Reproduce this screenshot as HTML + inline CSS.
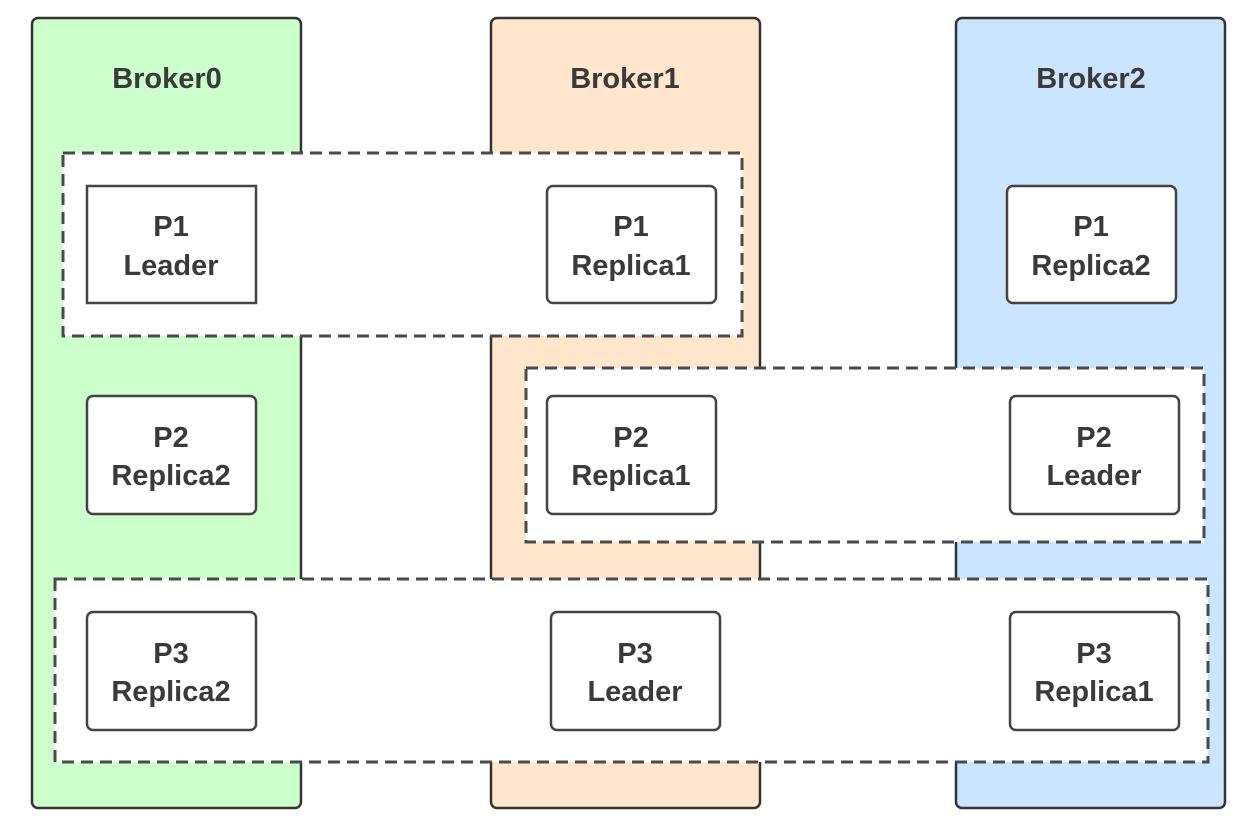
<!DOCTYPE html>
<html><head><meta charset="utf-8"><style>html,body{margin:0;padding:0;background:#fff}svg{display:block}</style></head>
<body>
<svg width="1256" height="836" xmlns="http://www.w3.org/2000/svg" font-family="Liberation Sans, sans-serif" font-weight="bold" font-size="29" fill="#3a3a3a">
<g stroke="#333" stroke-width="2.5">
<rect x="32" y="18" width="269" height="790" rx="6" fill="#ccffcc"/>
<rect x="491" y="18" width="269" height="790" rx="6" fill="#ffe6cc"/>
<rect x="956" y="18" width="269" height="790" rx="6" fill="#cce5ff"/>
</g>
<g text-anchor="middle" stroke="none">
<text x="167" y="88">Broker0</text>
<text x="625" y="88">Broker1</text>
<text x="1091" y="88">Broker2</text>
</g>
<g fill="#fff" stroke="#4a4a4a" stroke-width="3" stroke-dasharray="12 7">
<rect x="63" y="153" width="679" height="183"/>
<rect x="526" y="368" width="678" height="174"/>
<rect x="55" y="579" width="1153" height="183"/>
</g>
<g fill="#fff" stroke="#444" stroke-width="2.5">
<rect x="87" y="186" width="169" height="117"/>
<rect x="547" y="186" width="169" height="117" rx="6"/>
<rect x="1007" y="186" width="169" height="117" rx="6"/>
<rect x="87" y="396" width="169" height="118" rx="6"/>
<rect x="547" y="396" width="169" height="118" rx="6"/>
<rect x="1010" y="396" width="169" height="118" rx="6"/>
<rect x="87" y="612" width="169" height="118" rx="6"/>
<rect x="551" y="612" width="169" height="118" rx="6"/>
<rect x="1010" y="612" width="169" height="118" rx="6"/>
</g>
<g text-anchor="middle">
<text x="171" y="236">P1</text><text x="171" y="275">Leader</text>
<text x="631" y="236">P1</text><text x="631" y="275">Replica1</text>
<text x="1091" y="236">P1</text><text x="1091" y="275">Replica2</text>
<text x="171" y="447">P2</text><text x="171" y="485">Replica2</text>
<text x="631" y="447">P2</text><text x="631" y="485">Replica1</text>
<text x="1094" y="447">P2</text><text x="1094" y="485">Leader</text>
<text x="171" y="663">P3</text><text x="171" y="701">Replica2</text>
<text x="635" y="663">P3</text><text x="635" y="701">Leader</text>
<text x="1094" y="663">P3</text><text x="1094" y="701">Replica1</text>
</g>
</svg>
</body></html>
